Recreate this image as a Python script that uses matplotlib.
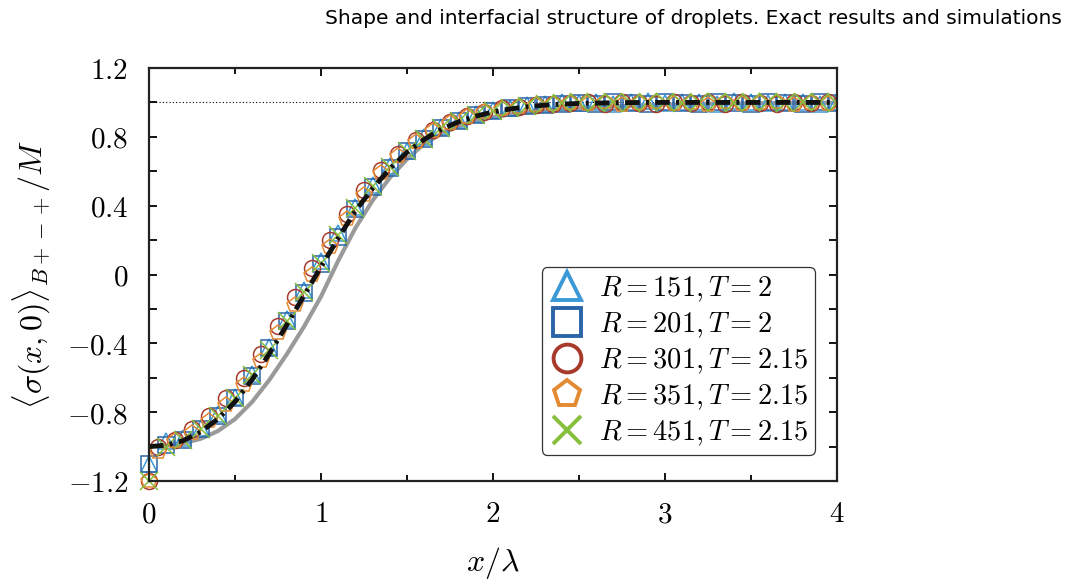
import numpy as np
import matplotlib
matplotlib.use('Agg')
import matplotlib.pyplot as plt
from matplotlib.lines import Line2D

plt.rcParams['mathtext.fontset'] = 'cm'
plt.rcParams['font.family'] = ['DejaVu Sans']

# theory curves (x step 0.1)
x_theory = np.round(np.arange(41) * 0.1, 2)
exact_y = [-1.000, -0.992, -0.965, -0.915, -0.840, -0.740, -0.610, -0.460, -0.295, -0.125,
           0.045, 0.210, 0.370, 0.500, 0.615, 0.710, 0.785, 0.845, 0.887, 0.920,
           0.945, 0.962, 0.975, 0.984, 0.990, 0.994, 0.996, 0.998, 0.999, 1.000,
           1.000, 1.000, 1.000, 1.000, 1.000, 1.000, 1.000, 1.000, 1.000, 1.000, 1.000]
gray_y = [-1.000, -0.995, -0.980, -0.955, -0.910, -0.840, -0.740, -0.612, -0.465, -0.305,
          -0.128, 0.080, 0.270, 0.430, 0.562, 0.670, 0.760, 0.818, 0.862, 0.895,
          0.915, 0.930, 0.942, 0.951, 0.959, 0.965, 0.971, 0.976, 0.980, 0.984,
          0.987, 0.990, 0.992, 0.993, 0.994, 0.995, 0.996, 0.997, 0.997, 0.998, 0.998]

# simulation data
x_grid_a = np.round(np.arange(41) * 0.1, 2)
x_grid_b = np.r_[0.0, np.round(np.arange(40) * 0.1 + 0.05, 2)]

r151_y = [-1.10, -0.97, -0.95, -0.89, -0.81, -0.71, -0.58, -0.42, -0.26, -0.09,
          0.08, 0.24, 0.39, 0.52, 0.63, 0.72, 0.80, 0.855, 0.895, 0.93,
          0.955, 0.97, 0.985, 0.99, 1.0, 0.995, 1.005, 0.99, 1.0, 1.01,
          0.995, 1.0, 1.005, 0.99, 1.01, 1.0, 0.995, 1.005, 1.0, 0.99, 1.0]
r201_y = [-1.10, -0.99, -0.96, -0.90, -0.82, -0.72, -0.59, -0.43, -0.27, -0.11,
          0.06, 0.22, 0.38, 0.51, 0.62, 0.715, 0.79, 0.85, 0.89, 0.925,
          0.95, 0.965, 0.98, 0.985, 0.99, 0.995, 0.99, 1.0, 0.995, 0.99,
          1.0, 0.995, 0.99, 1.0, 0.995, 0.99, 1.0, 0.995, 0.99, 1.0, 0.995]
r301_y = [-1.20, -1.0, -0.96, -0.90, -0.82, -0.72, -0.60, -0.46, -0.30, -0.13,
          0.04, 0.20, 0.35, 0.49, 0.61, 0.70, 0.78, 0.84, 0.885, 0.92,
          0.945, 0.965, 0.975, 0.985, 0.99, 0.995, 1.0, 0.99, 1.0, 0.995,
          0.99, 1.0, 0.995, 1.0, 0.99, 1.0, 0.995, 0.99, 1.0, 0.995, 1.0]
r351_y = [-1.20, -1.03, -0.97, -0.92, -0.85, -0.76, -0.64, -0.50, -0.34, -0.18,
          0.0, 0.16, 0.32, 0.46, 0.59, 0.69, 0.77, 0.835, 0.88, 0.915,
          0.945, 0.96, 0.975, 0.985, 0.99, 0.995, 0.99, 1.0, 0.985, 0.995,
          1.0, 0.99, 0.995, 0.985, 1.0, 0.99, 0.995, 1.0, 0.985, 0.995, 0.99]
r451_y = [-1.20, -1.0, -0.96, -0.90, -0.82, -0.72, -0.585, -0.44, -0.27, -0.10,
          0.065, 0.23, 0.385, 0.515, 0.625, 0.715, 0.79, 0.85, 0.89, 0.925,
          0.95, 0.965, 0.98, 0.99, 0.995, 1.0, 0.995, 1.005, 0.995, 1.0,
          1.0, 0.995, 1.005, 1.0, 0.995, 1.0, 1.005, 0.995, 1.0, 1.0, 0.995]

labels = [r'$R=151,T=2$', r'$R=201,T=2$', r'$R=301,T=2.15$',
          r'$R=351,T=2.15$', r'$R=451,T=2.15$']
colors = ['#3b9ad6', '#2b65a8', '#a83a2c', '#e38a33', '#86bf3c']
markers = ['^', 's', 'o', 'p', 'x']
series = [(x_grid_a, r151_y), (x_grid_a, r201_y), (x_grid_b, r301_y),
          (x_grid_b, r351_y), (x_grid_a, r451_y)]

xticks = [0, 1, 2, 3, 4]
yticks = [-1.2, -0.8, -0.4, 0, 0.4, 0.8, 1.2]
ytick_labels = [r'$-1.2$', r'$-0.8$', r'$-0.4$', r'$0$', r'$0.4$', r'$0.8$', r'$1.2$']

fig = plt.figure(figsize=(10.73, 5.79), dpi=100)
ax = fig.add_axes([149 / 1073, 1 - 481 / 579, 688 / 1073, 413 / 579])

ax.axhline(1.0, color='black', lw=0.8, ls=(0, (1, 2)), zorder=1)
ax.plot(x_theory, gray_y, color='#9a9a9a', lw=3, zorder=2)

for (xs, ys), m, c in zip(series, markers, colors):
    style = dict(ls='none', marker=m, ms=11.5 if m != 'x' else 12.5,
                 mfc='none', mec=c, mew=1.1, zorder=3)
    # the x = 0 points sit on the frame and spill over it
    ax.plot(xs[:1], ys[:1], clip_on=False, **style)
    ax.plot(xs[1:], ys[1:], **style)

ax.plot(x_theory, exact_y, color='#111111', lw=3.5,
        dashes=(3, 1.3, 0.6, 1.3), zorder=4)

ax.set_xlim(0, 4)
ax.set_ylim(-1.2, 1.2)
ax.set_xticks(xticks)
ax.set_xticklabels([rf'${t}$' for t in xticks])
ax.set_xticks([0.5, 1.5, 2.5, 3.5], minor=True)
ax.set_yticks(yticks)
ax.set_yticklabels(ytick_labels)
ax.set_yticks([-1.0, -0.6, -0.2, 0.2, 0.6, 1.0], minor=True)
ax.tick_params(which='both', direction='in', top=True, right=True,
               labelsize=21, width=1.3)
ax.tick_params(axis='x', which='both', pad=14)
ax.tick_params(axis='y', which='both', pad=15)
ax.tick_params(which='major', length=6)
ax.tick_params(which='minor', length=4.5)
ax.tick_params(axis='y', which='minor', length=6)
for s in ax.spines.values():
    s.set_linewidth(1.6)
    s.set_color('#222222')
    s.set_zorder(5)

ax.set_xlabel(r'$x/\lambda$', fontsize=23, labelpad=12)
ax.set_ylabel(r'$\langle\sigma(x,0)\rangle_{B+-+}/M$', fontsize=23, labelpad=10)

handles = [Line2D([], [], ls='none', marker=m, ms=20, mfc='none', mec=c, mew=2.8)
           for m, c in zip(markers, colors)]
leg = ax.legend(handles, labels, loc='lower right', bbox_to_anchor=(0.968, 0.063),
                fontsize=20.5, frameon=True, fancybox=True, framealpha=1,
                edgecolor='#333333', handlelength=1.3, handletextpad=0.45,
                labelspacing=0.22, borderpad=0.25, borderaxespad=0)
leg.get_frame().set_linewidth(0.9)
leg.set_zorder(6)

fig.text(1062 / 1073, 1 - 19 / 579,
         'Shape and interfacial structure of droplets. Exact results and simulations',
         ha='right', va='center', fontsize=14.5)

fig.savefig('out.png', dpi=100)
